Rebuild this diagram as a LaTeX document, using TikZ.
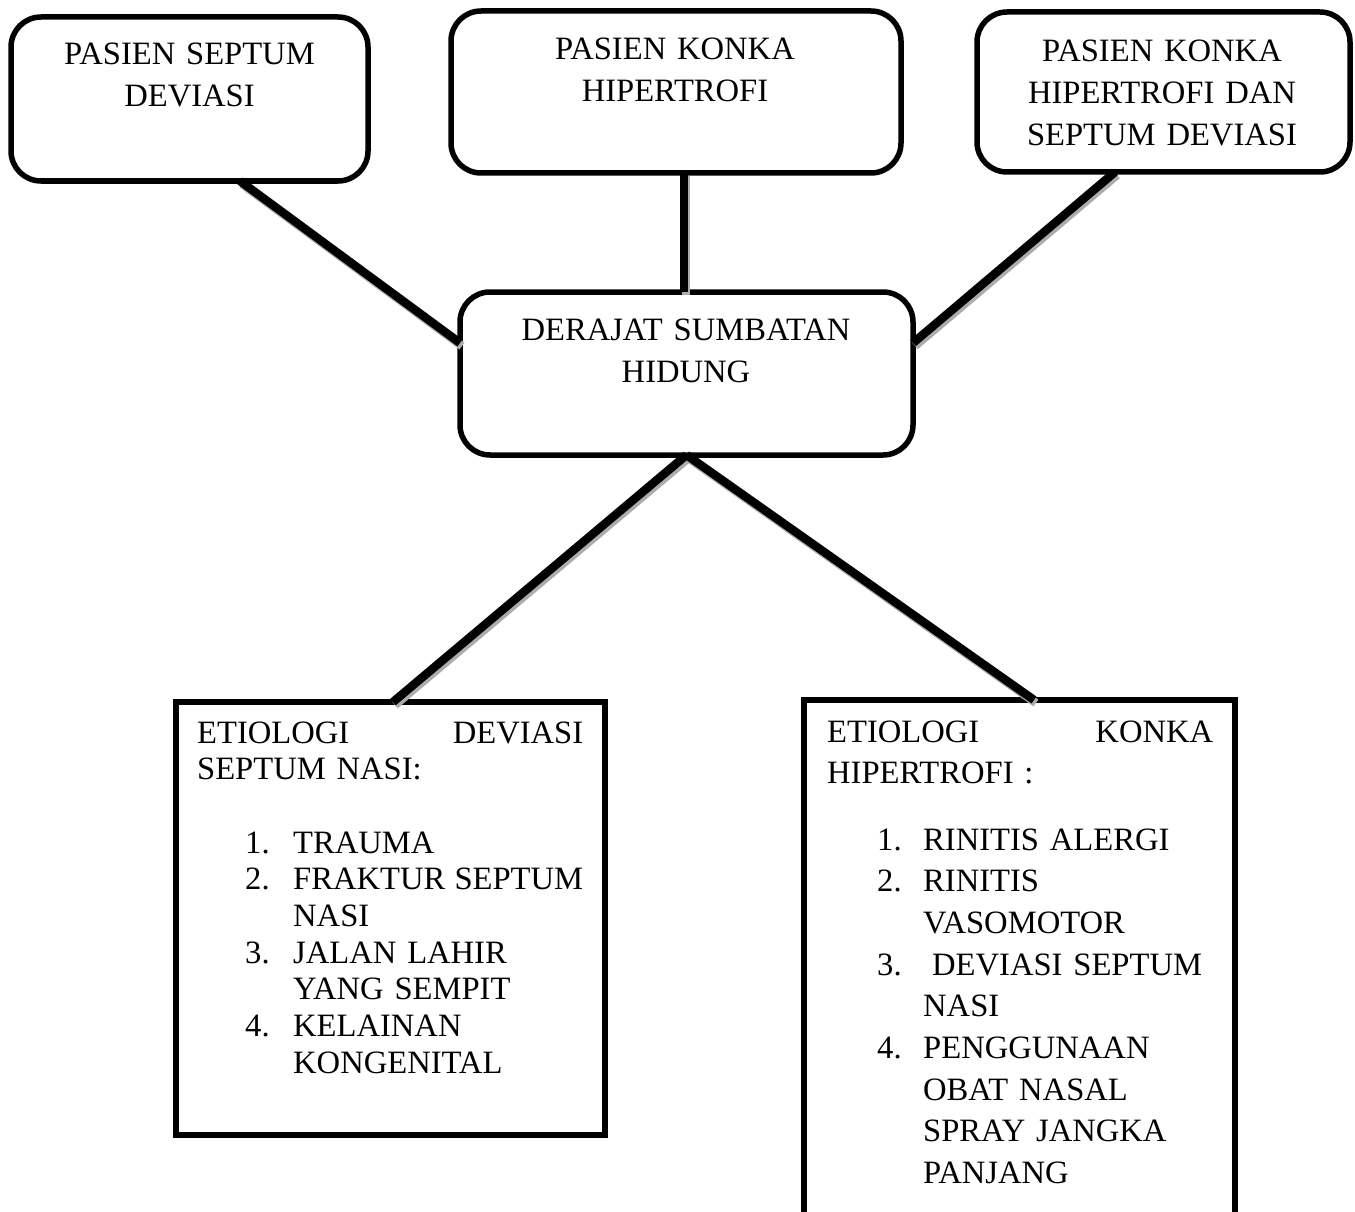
\documentclass[tikz,border=0pt]{standalone}
\usepackage{fontspec}
\setmainfont{Liberation Serif}
\usetikzlibrary{backgrounds}
\begin{document}
\begin{tikzpicture}[x=1pt,y=-1pt,
  rbox/.style={draw, line width=5.5pt, rounded corners=30pt, inner sep=0pt, outer sep=0pt},
  sbox/.style={draw, line width=5.5pt, inner sep=0pt, outer sep=0pt},
  conn/.style={line width=8.5pt, preaction={draw=gray!65, line width=8.5pt, transform canvas={shift={(2pt,-3pt)}}}},
  ctext/.style={anchor=base, align=center, inner sep=0pt, text width=340pt, font=\fontsize{32.6}{42}\selectfont},
  ltext/.style={anchor=base west, align=left, inner sep=0pt, text width=386pt, font=\fontsize{32.6}{36.7}\selectfont},
  rtext/.style={anchor=base west, align=left, inner sep=0pt, text width=386pt, font=\fontsize{32.6}{41.7}\selectfont},
  shad/.style={draw=gray!60, line width=5pt}
]
\path[use as bounding box, fill=white] (0,0) rectangle (1355,1212);

% boxes
\node[rbox, minimum width=357pt, minimum height=164pt] (b1) at (189.5,99) {};
\node[rbox, minimum width=450pt, minimum height=162pt] (b2) at (676,92) {};
\node[rbox, minimum width=373pt, minimum height=160pt] (b3) at (1163.5,92) {};
\node[rbox, minimum width=453pt, minimum height=163pt] (bc) at (686.5,373.5) {};
\node[sbox, minimum width=429pt, minimum height=433pt] (lb) at (390.5,918.5) {};
\node[sbox, minimum width=431pt, minimum height=560pt] (rb) at (1019.5,980) {};

\begin{pgfonlayer}{background}
\draw[shad] ([shift={(2pt,-2pt)}]lb.north west) rectangle ([shift={(2pt,-2pt)}]lb.south east);
\draw[shad] ([shift={(2pt,-2pt)}]rb.north west) rectangle ([shift={(2pt,-2pt)}]rb.south east);
\end{pgfonlayer}

% texts
\node[ctext] (t1) at (189.5,65) {PASIEN SEPTUM\\DEVIASI};
\node[ctext] (t2) at (675,60) {PASIEN KONKA\\HIPERTROFI};
\node[ctext] (t3) at (1162,62) {PASIEN KONKA\\HIPERTROFI DAN\\SEPTUM DEVIASI};
\node[ctext] (tc) at (686,340) {DERAJAT SUMBATAN\\HIDUNG};

\node[ltext] (lh) at (197,743) {ETIOLOGI\hfill DEVIASI\\SEPTUM NASI:};
\node[ltext] (ll) at (197,853) {%
\hspace*{48pt}\makebox[48pt][l]{1.}TRAUMA\\
\hspace*{48pt}\makebox[48pt][l]{2.}FRAKTUR\hfill SEPTUM\\
\hspace*{96pt}NASI\\
\hspace*{48pt}\makebox[48pt][l]{3.}JALAN LAHIR\\
\hspace*{96pt}YANG SEMPIT\\
\hspace*{48pt}\makebox[48pt][l]{4.}KELAINAN\\
\hspace*{96pt}KONGENITAL};

\node[rtext] (rh) at (827,742) {ETIOLOGI\hfill KONKA\\HIPERTROFI :};
\node[rtext] (rl) at (827,850) {%
\hspace*{50pt}\makebox[46pt][l]{1.}RINITIS ALERGI\\
\hspace*{50pt}\makebox[46pt][l]{2.}RINITIS\\
\hspace*{96pt}VASOMOTOR\\
\hspace*{50pt}\makebox[55pt][l]{3.}DEVIASI SEPTUM\\
\hspace*{96pt}NASI\\
\hspace*{50pt}\makebox[46pt][l]{4.}PENGGUNAAN\\
\hspace*{96pt}OBAT NASAL\\
\hspace*{96pt}SPRAY JANGKA\\
\hspace*{96pt}PANJANG};

% connectors
\draw[conn] ([xshift=229pt]b1.south west) -- ([yshift=-51pt]bc.north west);
\draw[conn] ([xshift=8pt]b2.south) -- ([xshift=-2.5pt]bc.north);
\draw[conn] ([xshift=138pt]b3.south west) -- ([yshift=-51pt]bc.north east);
\draw[conn] (bc.south) -- ([xshift=217pt]lb.north west);
\draw[conn] (bc.south) -- ([xshift=230pt]rb.north west);
\end{tikzpicture}
\end{document}
